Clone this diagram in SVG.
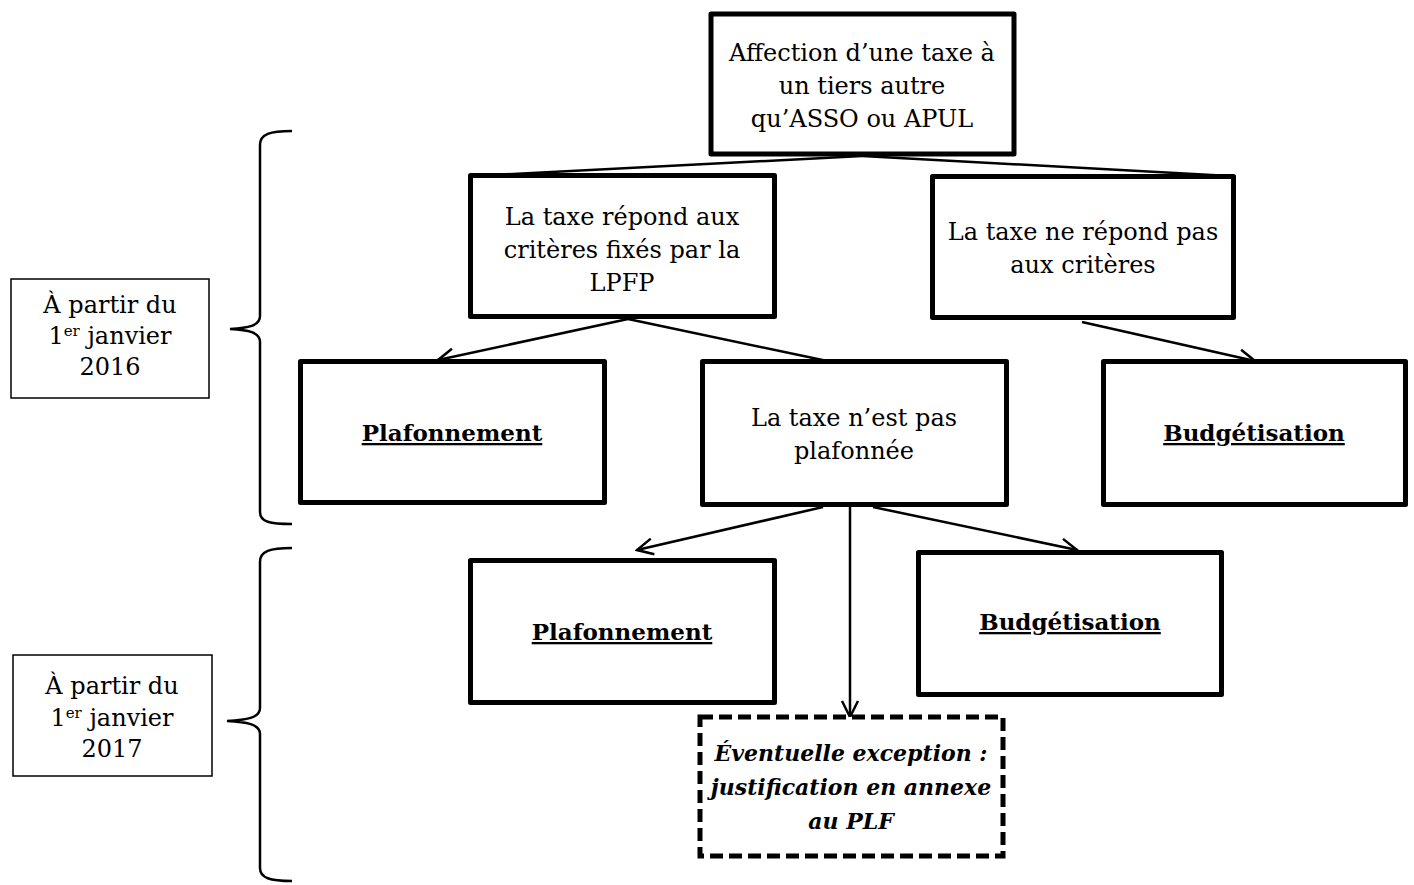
<svg xmlns="http://www.w3.org/2000/svg" width="1414" height="885" viewBox="0 0 1414 885">
<style>
.box{fill:#fff;stroke:#000;stroke-width:5;stroke-linejoin:round}
.thin{fill:#fff;stroke:#000;stroke-width:1.5}
.dash{fill:#fff;stroke:#000;stroke-width:5;stroke-dasharray:13 6}
.t{font-family:"DejaVu Serif","Liberation Serif",serif;font-size:24px;text-anchor:middle;fill:#000}
.b{font-family:"DejaVu Serif","Liberation Serif",serif;font-size:23px;font-weight:bold;text-anchor:middle;text-decoration:underline;fill:#000}
.i{font-family:"DejaVu Serif","Liberation Serif",serif;font-size:22px;font-weight:bold;font-style:italic;text-anchor:middle;fill:#000}
.c{fill:none;stroke:#000;stroke-width:2.5}
.br{fill:none;stroke:#000;stroke-width:2.5}
</style>
<defs>
<marker id="arr" markerUnits="userSpaceOnUse" viewBox="-18 -10 20 20" refX="0" refY="0" markerWidth="20" markerHeight="20" orient="auto">
<path d="M-16,-8 L0,0 L-16,8" fill="none" stroke="#000" stroke-width="2.5"/>
</marker>
</defs>
<g id="connectors">
<path class="c" d="M862,156 L472,176"/>
<path class="c" d="M862,156 L1230,176"/>
<path class="c" d="M628,319 L438,360" marker-end="url(#arr)"/>
<path class="c" d="M628,319 L832,362"/>
<path class="c" d="M1082,322 L1255,361" marker-end="url(#arr)"/>
<path class="c" d="M823,507 L637,550" marker-end="url(#arr)"/>
<path class="c" d="M873,507 L1077,550" marker-end="url(#arr)"/>
<path class="c" d="M850,507 L850,717" marker-end="url(#arr)"/>
</g>
<g id="brace2016"><path class="br" d="M292,131 C270,131 260,134 260,145 L260,316 C260,326 248,328 230,329 C248,330 260,332 260,342 L260,512 C260,522 270,524 292,524"/></g>
<g id="brace2017"><path class="br" d="M292,548 C270,548 260,551 260,562 L260,708 C260,718 246,720 227,721 C246,722 260,724 260,734 L260,868 C260,878 270,881 292,881"/></g>
<g id="n_top"><rect class="box" x="711" y="14" width="303" height="140"/>
<text class="t" x="862" y="61">Affection d’une taxe à</text>
<text class="t" x="862" y="94">un tiers autre</text>
<text class="t" x="862" y="127">qu’ASSO ou APUL</text></g>
<g id="n_repond"><rect class="box" x="470.5" y="175.5" width="304" height="141"/>
<text class="t" x="622" y="225">La taxe répond aux</text>
<text class="t" x="622" y="258">critères fixés par la</text>
<text class="t" x="622" y="291">LPFP</text></g>
<g id="n_nerepond"><rect class="box" x="932.5" y="176.5" width="301" height="141"/>
<text class="t" x="1083" y="240">La taxe ne répond pas</text>
<text class="t" x="1083" y="273">aux critères</text></g>
<g id="n_plaf1"><rect class="box" x="300.5" y="361.5" width="304" height="141"/>
<text class="b" x="452" y="441">Plafonnement</text></g>
<g id="n_nonplaf"><rect class="box" x="702.5" y="361.5" width="304" height="143"/>
<text class="t" x="854" y="426">La taxe n’est pas</text>
<text class="t" x="854" y="459">plafonnée</text></g>
<g id="n_budg1"><rect class="box" x="1103.5" y="361.5" width="302" height="143"/>
<text class="b" x="1254" y="441">Budgétisation</text></g>
<g id="n_plaf2"><rect class="box" x="470.5" y="560.5" width="304" height="142"/>
<text class="b" x="622" y="640">Plafonnement</text></g>
<g id="n_budg2"><rect class="box" x="918.5" y="552.5" width="303" height="142"/>
<text class="b" x="1070" y="630">Budgétisation</text></g>
<g id="n_exception"><rect class="dash" x="700" y="717" width="303" height="139"/>
<text class="i" x="851" y="761">Éventuelle exception :</text>
<text class="i" x="851" y="795">justification en annexe</text>
<text class="i" x="851" y="829">au PLF</text></g>
<g id="n_2016"><rect class="thin" x="11" y="279" width="198" height="119"/>
<text class="t" x="110" y="313">À partir du</text>
<text class="t" x="110" y="344">1<tspan font-size="15" dy="-8">er</tspan><tspan dy="8"> janvier</tspan></text>
<text class="t" x="110" y="375">2016</text></g>
<g id="n_2017"><rect class="thin" x="13" y="655" width="199" height="121"/>
<text class="t" x="112" y="694">À partir du</text>
<text class="t" x="112" y="726">1<tspan font-size="15" dy="-8">er</tspan><tspan dy="8"> janvier</tspan></text>
<text class="t" x="112" y="757">2017</text></g>
</svg>
